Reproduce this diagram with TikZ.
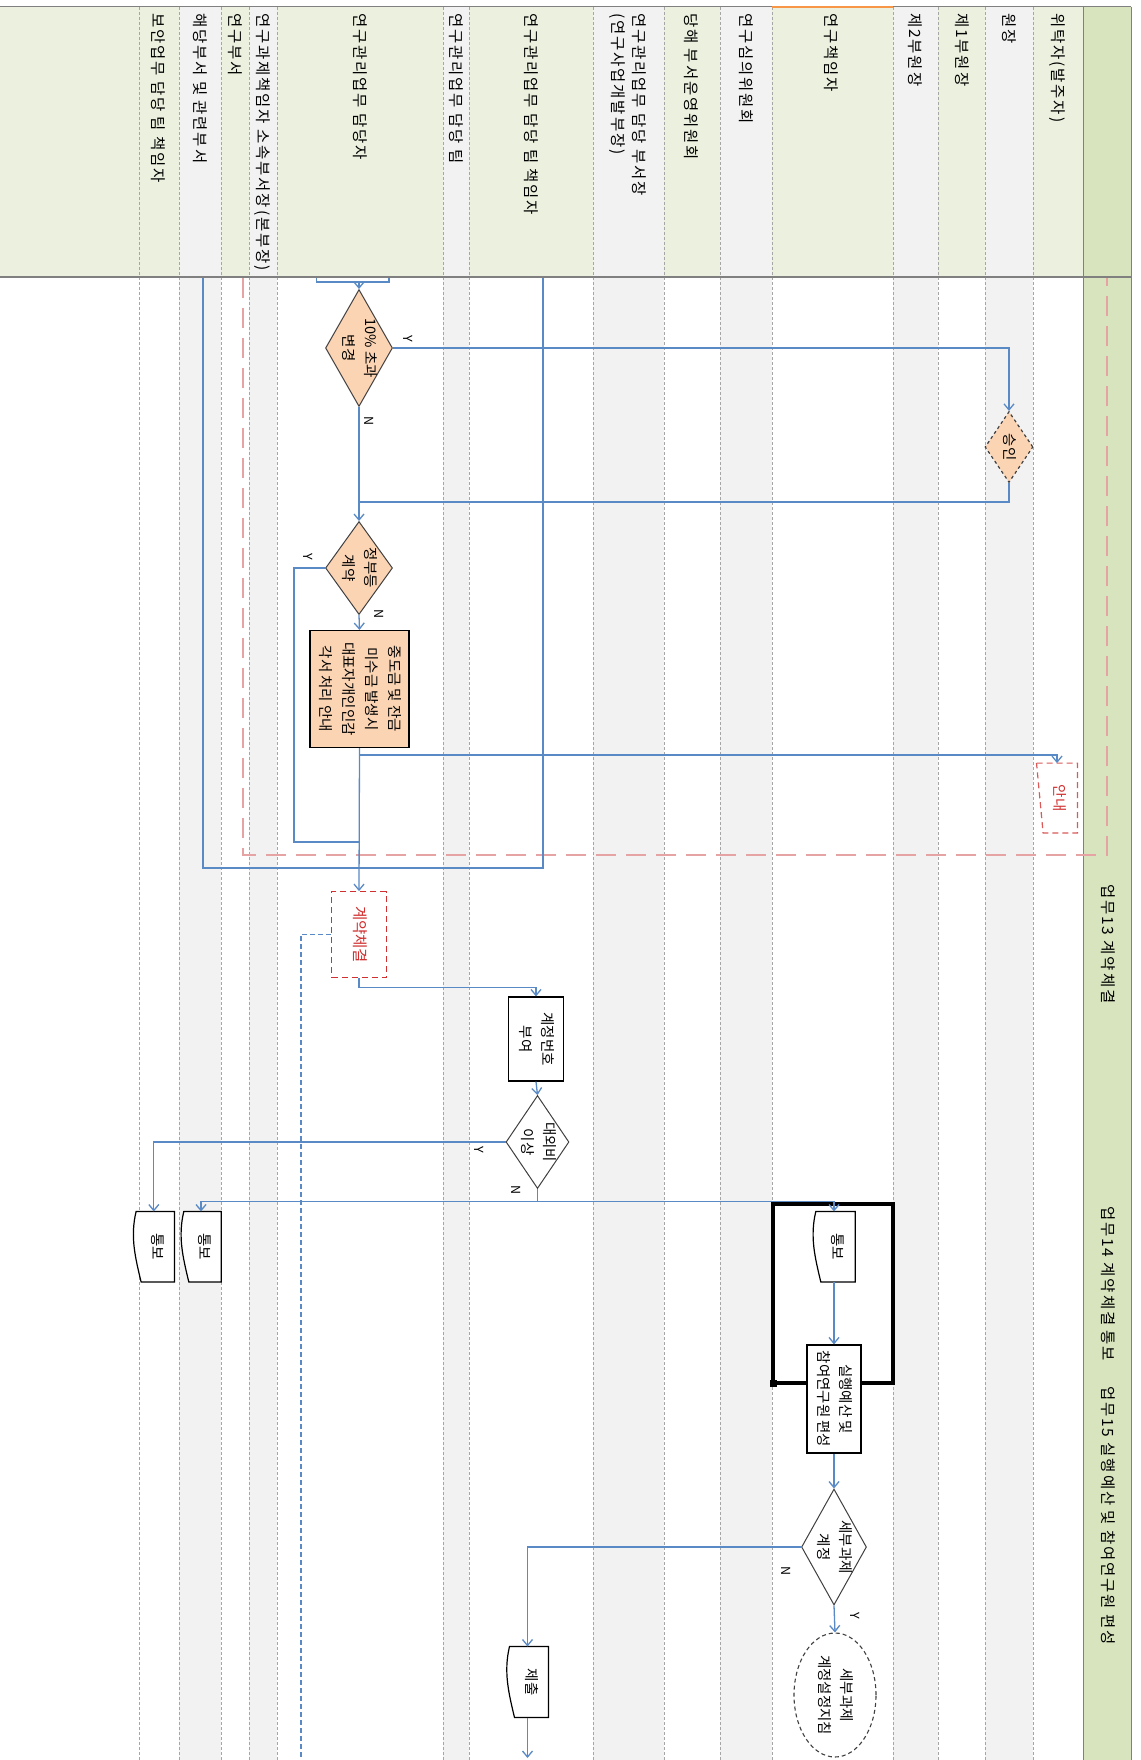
\documentclass[tikz,border=0pt]{standalone}
\usepackage{fontspec}
\setmainfont{Noto Sans CJK KR}
\newfontfamily\hdrfont[LetterSpace=12]{Noto Sans CJK KR}
\usetikzlibrary{shapes.geometric,arrows.meta,calc}
\definecolor{hgreen}{HTML}{EBF1DE}
\definecolor{lgray}{HTML}{F2F2F2}
\definecolor{pgreen}{HTML}{D7E4BD}
\definecolor{peach}{HTML}{FBD4B4}
\definecolor{cblue}{HTML}{5A8AC6}
\definecolor{lanegray}{HTML}{A6A6A6}
\definecolor{pinkred}{HTML}{E6A3A3}
\definecolor{txtred}{HTML}{D03030}
\definecolor{bord}{HTML}{404040}
\definecolor{hdrorange}{HTML}{F79646}
\newcommand{\vtxt}[1]{\rotatebox{-90}{\begin{tabular}{@{}c@{}}#1\end{tabular}}}
\newcommand{\vtxtl}[1]{\rotatebox{-90}{\begin{tabular}{@{}l@{}}#1\end{tabular}}}
\newcommand{\docshape}[1]{\filldraw[fill=white, draw=black, line width=1.2pt]
  ($(#1.north west)+(3,0)$) -- (#1.north east) -- (#1.south east) -- ($(#1.south west)+(8,0)$)
  .. controls ($(#1.south west)+(2,-25)$) and ($(#1.north west)+(-3,25)$) .. ($(#1.north west)+(3,0)$) -- cycle;}
\tikzset{
  lanetxt/.style={anchor=north, inner sep=0pt, font=\hdrfont\fontsize{15.5}{21}\selectfont},
  ntxt/.style={inner sep=0pt, font=\fontsize{14.5}{22}\selectfont},
  laneline/.style={lanegray, dash pattern=on 3pt off 2pt, line width=0.8pt},
  sepline/.style={draw=gray, line width=1pt},
  conn/.style={draw=cblue, line width=1.3pt, -{Straight Barb[length=6pt,width=10pt]}},
  flow/.style={draw=cblue, line width=1.3pt},
  dashconn/.style={draw=cblue, line width=1.2pt, dash pattern=on 5pt off 3pt},
  dia/.style={diamond, draw=bord, line width=1pt, inner sep=0pt},
  pbox/.style={rectangle, draw=black, fill=peach, line width=1.1pt, inner sep=0pt, font=\fontsize{14.5}{23}\selectfont},
  wbox/.style={rectangle, draw=black, fill=white, line width=1.2pt, inner sep=0pt, font=\fontsize{14.5}{22}\selectfont},
  cbox/.style={rectangle, draw=txtred, fill=white, line width=1.2pt, dash pattern=on 6pt off 4pt, inner sep=0pt, font=\fontsize{15.5}{22}\selectfont},
  docn/.style={rectangle, inner sep=0pt},
  ylab/.style={inner sep=0pt, font=\fontsize{12.5}{14}\selectfont}
}
\begin{document}
\begin{tikzpicture}[x=1pt,y=-1pt]
\useasboundingbox (0,0) rectangle (1140,1760);
\fill[white] (0,0) rectangle (1140,1760);
% header and lanes
\fill[hgreen] (0,7) rectangle (1083,277);
\foreach \a/\b in {179/221,249/277,443/469,593/664,720/772,893/938,985/1033}{
  \fill[lgray] (\a,7) rectangle (\b,1760);
}
\fill[pgreen] (1083,7) rectangle (1131,1760);
\foreach \xx in {139,179,221,249,277,443,469,593,664,720,772,893,938,985,1033}{
  \draw[laneline] (\xx,7) -- (\xx,1760);
}
\draw[sepline] (1083,7) -- (1083,1760);
\draw[sepline] (1131,7) -- (1131,1760);
\draw[sepline] (0,7) -- (1131,7);
\draw[draw=gray, line width=1.6pt] (0,277) -- (1131,277);
\draw[hdrorange, line width=1.5pt] (772,7) -- (893,7);
% lane titles
\node[lanetxt] (h01) at (157,13) {\vtxtl{보안업무 담당 팀 책임자}};
\node[lanetxt] (h02) at (199,13) {\vtxtl{해당부서 및 관련부서}};
\node[lanetxt] (h03) at (234,13) {\vtxtl{연구부서}};
\node[lanetxt] (h04) at (262,13) {\vtxtl{연구과제책임자 소속부서장(본부장)}};
\node[lanetxt] (h05) at (359,13) {\vtxtl{연구관리업무 담당자}};
\node[lanetxt] (h06) at (455,13) {\vtxtl{연구관리업무 담당 팀}};
\node[lanetxt] (h07) at (530,13) {\vtxtl{연구관리업무 담당 팀 책임자}};
\node[lanetxt] (h08) at (627,13) {\vtxtl{연구관리업무 담당 부서장\\(연구사업개발부장)}};
\node[lanetxt] (h09) at (690,13) {\vtxtl{당해 부서운영위원회}};
\node[lanetxt] (h10) at (745,13) {\vtxtl{연구심의위원회}};
\node[lanetxt] (h11) at (830,13) {\vtxtl{연구책임자}};
\node[lanetxt] (h12) at (914,13) {\vtxtl{제2부원장}};
\node[lanetxt] (h13) at (961,13) {\vtxtl{제1부원장}};
\node[lanetxt] (h14) at (1008,13) {\vtxtl{원장}};
\node[lanetxt] (h15) at (1057,13) {\vtxtl{위탁자(발주자)}};
% phase labels
\node[lanetxt] (p13) at (1107,884) {\vtxtl{업무13 계약체결}};
\node[lanetxt] (p14) at (1107,1206) {\vtxtl{업무14 계약체결 통보}};
\node[lanetxt] (p15) at (1107,1386) {\vtxtl{업무15 실행예산 및 참여연구원 편성}};
% pink dashed frame
\draw[pinkred, line width=2pt, dash pattern=on 20pt off 10pt] (243,278) -- (243,855) -- (1107,855) -- (1107,278);
% thick black frame
\draw[black, line width=3.5pt] (773,1204) rectangle (893,1383);
\fill[black] (769.5,1379.5) rectangle (776.5,1386.5);
% nodes
\node[dia, fill=peach, minimum width=67pt, minimum height=117pt] (d1) at (359,348) {};
\node[ntxt] (d1t) at (d1.center) {\vtxt{10\% 초과\\변경}};
\node[dia, fill=peach, dashed, line width=1.2pt, minimum width=48pt, minimum height=71pt] (d2) at (1009,447) {};
\node[ntxt] (d2t) at (d2.center) {\vtxt{승인}};
\node[dia, fill=peach, minimum width=67pt, minimum height=93pt] (d3) at (359,568) {};
\node[ntxt] (d3t) at (d3.center) {\vtxt{정부등\\계약}};
\node[pbox, minimum width=99pt, minimum height=117pt] (bx) at (359.5,689) {\vtxt{중도금 및 잔금\\미수금 발생시\\대표자개인인감\\각서 처리 안내}};
\node[docn, minimum width=40.6pt, minimum height=69.4pt] (an) at (1057,798) {};
\draw[txtred!80, line width=1.2pt, dash pattern=on 6pt off 4pt] (an.north west) -- (an.north east) -- (an.south east) -- ($(an.south west)+(6.6,0)$) -- cycle;
\node[ntxt, text=txtred] (ant) at (1059,798) {\vtxt{안내}};
\node[cbox, minimum width=54.3pt, minimum height=86pt] (cc) at (359,934.7) {\vtxt{\textcolor{txtred}{계약체결}}};
\node[wbox, minimum width=55pt, minimum height=84pt] (ac) at (536,1039) {\vtxt{계정번호\\부여}};
\node[dia, fill=white, minimum width=63pt, minimum height=93pt] (dv) at (537.5,1142) {};
\node[ntxt] (dvt) at (dv.center) {\vtxt{대외비\\이상}};
\node[docn, minimum width=41pt, minimum height=70pt] (t1) at (153.8,1246.7) {};
\docshape{t1}
\node[ntxt] (t1t) at (156.5,1246.7) {\vtxt{통보}};
\node[docn, minimum width=40pt, minimum height=70pt] (t2) at (201,1246.7) {};
\docshape{t2}
\node[ntxt] (t2t) at (203.5,1246.7) {\vtxt{통보}};
\node[docn, minimum width=42pt, minimum height=70pt] (t3) at (834,1246.7) {};
\docshape{t3}
\node[ntxt] (t3t) at (837,1246.7) {\vtxt{통보}};
\node[wbox, minimum width=54pt, minimum height=108pt] (ex) at (834,1399) {\vtxt{실행예산 및\\참여연구원 편성}};
\node[dia, fill=white, minimum width=65pt, minimum height=116pt] (d4) at (834,1547) {};
\node[ntxt] (d4t) at (d4.center) {\vtxt{세부과제\\계정}};
\node[ellipse, draw=bord, fill=white, line width=1.1pt, dash pattern=on 4pt off 3pt, minimum width=82pt, minimum height=124pt, inner sep=0pt] (el) at (835,1695) {};
\node[ntxt] (elt) at (el.center) {\vtxt{세부과제\\계정설정지침}};
\node[docn, minimum width=41.6pt, minimum height=70.6pt] (sub) at (527.5,1682) {};
\docshape{sub}
\node[ntxt] (subt) at (530.5,1682) {\vtxt{제출}};
% coordinates
\coordinate (b0) at (359,282);
\coordinate (j1) at (359,502);
\coordinate (j2) at (359,842);
\coordinate (yl) at (294,842);
\coordinate (j3) at (359,755);
\coordinate (h1) at (203,278);
\coordinate (h1b) at (203,868);
\coordinate (h2) at (543,278);
\coordinate (h2b) at (543,868);
\coordinate (ddend) at (301,1760);
\coordinate (j5) at (537.5,1201.7);
\coordinate (endarr) at (527.5,1758);
% connectors
\draw[flow] (316.7,278) -- (316.7,282) -- (389,282) -- (389,278);
\draw[conn] (b0) -- (d1.north);
\draw[conn] (d1.east) -| (d2.north);
\draw[conn] (d1.south) -- (d3.north);
\draw[flow] (d2.south) |- (j1);
\draw[flow] (d3.west) -| (yl) -- (j2);
\draw[conn] (d3.south) -- (bx.north);
\draw[flow] (h1) -- (h1b) -- (h2b) -- (h2);
\draw[conn] (bx.south) -- (cc.north);
\draw[conn] (j3) -| (an.north);
\draw[conn] (cc.south) -- ++(0,9.5) -| (ac.north);
\draw[dashconn] (cc.west) -| (ddend);
\draw[conn] (ac.south) -- (dv.north);
\draw[conn] (dv.west) -| (t1.north);
\draw[flow] (dv.south) -- (j5);
\draw[conn] (j5) -| (t2.north);
\draw[conn] (j5) -| (t3.north);
\draw[conn] (t3.south) -- (ex.north);
\draw[conn] (ex.south) -- (d4.north);
\draw[conn] (d4.south) -- (el.north);
\draw[conn] (d4.west) -| (sub.north);
\draw[conn] (sub.south) -- (endarr);
% Y/N labels
\node[ylab] (l1) at (407.7,339) {\rotatebox{-90}{Y}};
\node[ylab] (l2) at (369,421) {\rotatebox{-90}{N}};
\node[ylab] (l3) at (308,557) {\rotatebox{-90}{Y}};
\node[ylab] (l4) at (379,614) {\rotatebox{-90}{N}};
\node[ylab] (l5) at (479,1150) {\rotatebox{-90}{Y}};
\node[ylab] (l6) at (516,1190) {\rotatebox{-90}{N}};
\node[ylab] (l7) at (786,1571) {\rotatebox{-90}{N}};
\node[ylab] (l8) at (855,1616) {\rotatebox{-90}{Y}};
\end{tikzpicture}
\end{document}
